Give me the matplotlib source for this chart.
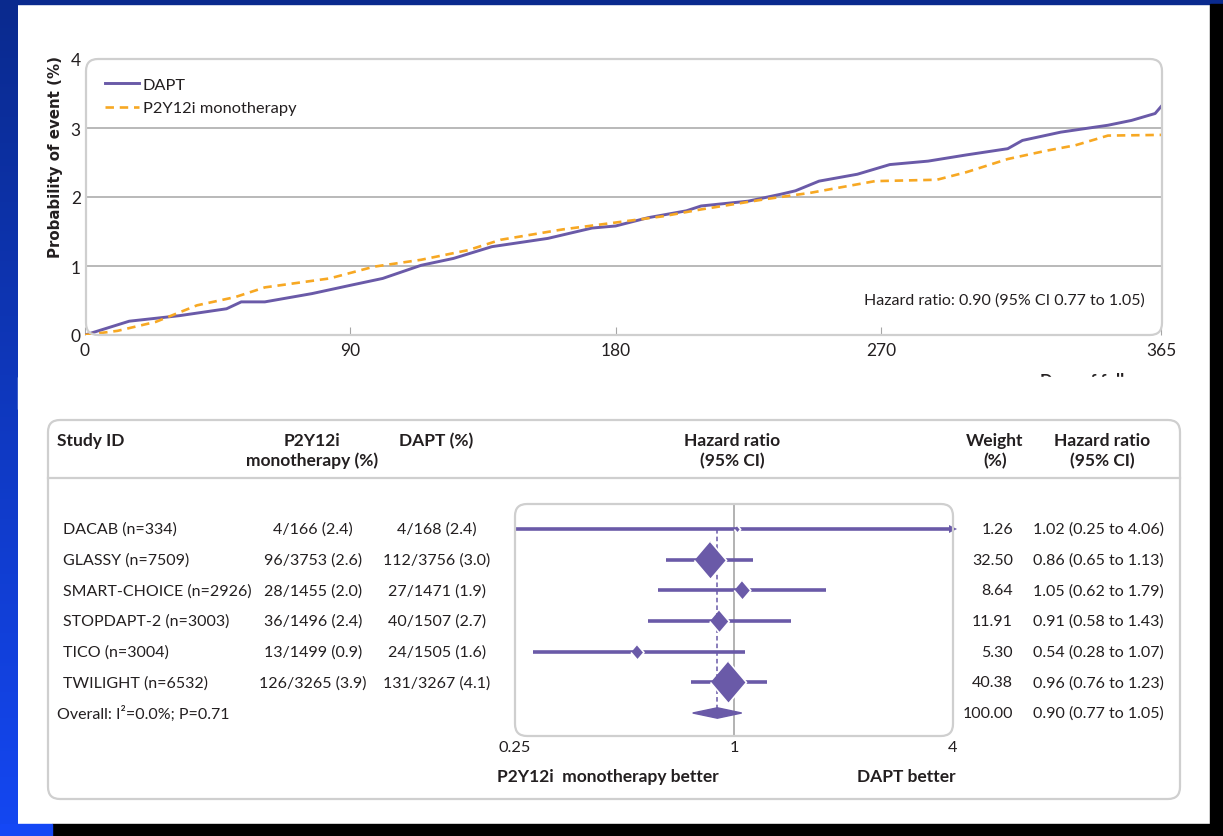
import numpy as np
import matplotlib
matplotlib.use("Agg")
import matplotlib.pyplot as plt
from matplotlib.patches import FancyBboxPatch, Rectangle, Polygon
from matplotlib.transforms import IdentityTransform, blended_transform_factory
from matplotlib.lines import Line2D

# ---- data ----
# cumulative event curves (days, probability %)
dapt_days = [0, 15, 32, 48, 53, 61, 77, 90, 101, 114, 125, 138, 157, 172, 180, 191, 204, 209,
             225, 236, 241, 249, 262, 273, 286, 299, 313, 318, 331, 347, 355, 363, 365]
dapt_prob = [0, 0.20, 0.28, 0.38, 0.48, 0.48, 0.60, 0.72, 0.82, 1.01, 1.11, 1.28, 1.40, 1.55,
             1.58, 1.70, 1.80, 1.87, 1.94, 2.04, 2.09, 2.23, 2.33, 2.47, 2.52, 2.61, 2.70, 2.82,
             2.94, 3.04, 3.11, 3.21, 3.31]
mono_days = [0, 11, 24, 38, 51, 61, 83, 98, 114, 130, 141, 162, 180, 196, 209, 231, 246, 268,
             289, 299, 313, 326, 336, 347, 365]
mono_prob = [0, 0.06, 0.19, 0.43, 0.55, 0.69, 0.82, 0.99, 1.09, 1.23, 1.38, 1.53, 1.63, 1.72,
             1.82, 1.97, 2.06, 2.23, 2.25, 2.36, 2.55, 2.67, 2.75, 2.89, 2.90]
km_xticks = [0, 90, 180, 270, 365]
km_yticks = [0, 1, 2, 3, 4]

# forest plot
studies = ["DACAB (n=334)", "GLASSY (n=7509)", "SMART-CHOICE (n=2926)",
           "STOPDAPT-2 (n=3003)", "TICO (n=3004)", "TWILIGHT (n=6532)"]
mono_events = ["4/166 (2.4)", "96/3753 (2.6)", "28/1455 (2.0)", "36/1496 (2.4)",
               "13/1499 (0.9)", "126/3265 (3.9)"]
dapt_events = ["4/168 (2.4)", "112/3756 (3.0)", "27/1471 (1.9)", "40/1507 (2.7)",
               "24/1505 (1.6)", "131/3267 (4.1)"]
hr = [1.02, 0.86, 1.05, 0.91, 0.54, 0.96]
hr_lo = [0.25, 0.65, 0.62, 0.58, 0.28, 0.76]
hr_hi = [4.06, 1.13, 1.79, 1.43, 1.07, 1.23]
weights = [1.26, 32.50, 8.64, 11.91, 5.30, 40.38]
overall_hr, overall_lo, overall_hi, overall_w = 0.90, 0.77, 1.05, 100.00
forest_ticks = [0.25, 1, 4]

W, H = 1223, 837
PURPLE = "#6a5aa8"
ORANGE = "#f7a823"
GRID = "#a6a6a6"
BOX = "#cfcfcf"
TXT = "#231f20"
FONT = "Lato"
FS = 11.5     # body text
FS_HDR = 12.5 # bold headers
FS_TICK = 12.5

def fx(x):
    return x / W

def fy(y):
    return 1 - y / H

fig = plt.figure(figsize=(W / 100, H / 100), dpi=100, facecolor="white")
plt.rcParams["font.family"] = [FONT, "DejaVu Sans"]

def rounded_box(x0, y0, x1, y1, r=12, z=0.5):
    # rounded frame in pixel coords (y measured from top)
    p = FancyBboxPatch((x0, H - y1), x1 - x0, y1 - y0,
                       boxstyle="round,pad=0,rounding_size=%d" % r,
                       transform=IdentityTransform(), facecolor="none",
                       edgecolor=BOX, linewidth=1.6, zorder=z)
    fig.add_artist(p)

# ---- slide background bits ----
bg = fig.add_axes([0, 0, 18 / W, 1])
grad = np.linspace(0, 1, 256).reshape(-1, 1)
cm = matplotlib.colors.LinearSegmentedColormap.from_list("b", ["#0a2a8e", "#1447f2"])
bg.imshow(grad, aspect="auto", cmap=cm, extent=[0, 1, 0, 1], origin="upper")
bg.axis("off")
fig.add_artist(Rectangle((0, fy(5)), 1, 5 / H, transform=fig.transFigure,
                         color="#0a2a8e", zorder=10))
fig.add_artist(Rectangle((fx(1210), fy(825)), 13 / W, 820 / H, transform=fig.transFigure,
                         color="black", zorder=10))
fig.add_artist(Rectangle((fx(52), 0), 1, 12 / H, transform=fig.transFigure,
                         color="black", zorder=10))
fig.add_artist(Rectangle((0, 0), fx(52), 12 / H, transform=fig.transFigure,
                         color="#1447f5", zorder=10))

# ---- top: cumulative event curves ----
ax = fig.add_axes([fx(85), fy(336), (1161 - 85) / W, (336 - 60) / H])
ax.plot(dapt_days, dapt_prob, color=PURPLE, lw=2.1, label="DAPT", zorder=3)
ax.plot(mono_days, mono_prob, color=ORANGE, lw=1.9, ls=(0, (3.2, 2.2)),
        label="P2Y12i monotherapy", zorder=3)
ax.set_xlim(0, 365)
ax.set_ylim(0, 4)
for v in [1, 2, 3]:
    ax.axhline(v, color=GRID, lw=1.1, zorder=1)
for s in ax.spines.values():
    s.set_visible(False)
ax.set_xticks(km_xticks)
ax.set_yticks(km_yticks)
ax.tick_params(axis="x", direction="in", length=6, width=0.8, color=GRID,
               labelsize=FS_TICK, labelcolor=TXT, pad=5)
ax.tick_params(axis="y", length=0, labelsize=FS_TICK, labelcolor=TXT, pad=3)
ax.set_ylabel("Probability of event (%)", family="DejaVu Sans", fontweight="bold",
              fontsize=10.8, color=TXT)
ax.yaxis.set_label_coords((63 - 85) / (1161 - 85), (336 - 157) / (336 - 60))
rounded_box(86, 60, 1162, 336, r=12, z=2)
leg = ax.legend(loc="upper left", bbox_to_anchor=(0.008, 0.975), frameon=False,
                fontsize=11.8, handlelength=2.1, handletextpad=0.2, labelspacing=0.55,
                borderaxespad=0.3)
for t in leg.get_texts():
    t.set_color(TXT)
ax.text(0.985, 0.13, "Hazard ratio: 0.90 (95% CI 0.77 to 1.05)", transform=ax.transAxes,
        ha="right", va="center", fontsize=11.5, color=TXT)

# x axis title, cut by the panel below like in the slide
fig.text(fx(1172), fy(373), "Days of follow-up", ha="right", va="top", fontsize=12,
         fontweight="bold", color=TXT)
fig.add_artist(Rectangle((fx(18), fy(410)), (1212 - 18) / W, 32 / H,
                         transform=fig.transFigure, color="white", zorder=5))

# ---- bottom: forest plot ----
rounded_box(48, 421, 1180, 800, r=12, z=6)
fig.add_artist(Line2D([fx(48), fx(1180)], [fy(479), fy(479)], transform=fig.transFigure,
                      color=BOX, lw=1.6, zorder=6))

hdr = dict(fontsize=FS_HDR, fontweight="bold", color=TXT, va="center", zorder=7)
fig.text(fx(57), fy(441), "Study ID", ha="left", **hdr)
fig.text(fx(312), fy(441), "P2Y12i", ha="center", **hdr)
fig.text(fx(312), fy(461), "monotherapy (%)", ha="center", **hdr)
fig.text(fx(436), fy(441), "DAPT (%)", ha="center", **hdr)
fig.text(fx(732), fy(441), "Hazard ratio", ha="center", **hdr)
fig.text(fx(732), fy(461), "(95% CI)", ha="center", **hdr)
fig.text(fx(995), fy(441), "Weight", ha="center", **hdr)
fig.text(fx(995), fy(461), "(%)", ha="center", **hdr)
fig.text(fx(1102), fy(441), "Hazard ratio", ha="center", **hdr)
fig.text(fx(1102), fy(461), "(95% CI)", ha="center", **hdr)

row_px = [530, 560, 591, 622, 652, 683, 714]
fax = fig.add_axes([fx(515), fy(737), (953 - 515) / W, (737 - 505) / H], zorder=7)
fax.set_xscale("log", base=2)
fax.set_xlim(0.25, 4)
step = (row_px[-1] - row_px[0]) / 6.0
fax.set_ylim(6 + (737 - row_px[-1]) / step, -(row_px[0] - 505) / step)
fax.patch.set_alpha(0)
for s in fax.spines.values():
    s.set_visible(False)
rounded_box(515, 505, 953, 737, r=12, z=8)

fax.axvline(1, color=GRID, lw=1.2, zorder=1)
fax.plot([overall_hr, overall_hr], [0, 6], color=PURPLE, lw=1.1, ls=(0, (3, 2)), zorder=2)

diamond = [(0, 1), (0.85, 0), (0, -1), (-0.85, 0)]
for i in range(len(studies)):
    hi_clip = min(hr_hi[i], 4)
    fax.plot([hr_lo[i], hi_clip], [i, i], color=PURPLE, lw=2.6, solid_capstyle="butt", zorder=3)
    if hr_hi[i] > 4:
        fax.plot([hi_clip], [i], marker=">", color=PURPLE, ms=6, mew=0, zorder=3, clip_on=False)
    fax.plot([hr[i]], [i], marker=diamond, color=PURPLE, ms=4.8 * np.sqrt(weights[i]),
             mec="white", mew=1.2, zorder=4)

oy = len(studies)
fax.add_patch(Polygon([(overall_lo, oy), (overall_hr, oy - 0.17), (overall_hi, oy),
                       (overall_hr, oy + 0.17)], closed=True, color=PURPLE, zorder=4))

fax.set_yticks([])
fax.set_xticks(forest_ticks)
fax.set_xticklabels(["0.25", "1", "4"])
fax.minorticks_off()
fax.tick_params(axis="x", length=0, labelsize=11.8, labelcolor=TXT, pad=3)

trans = blended_transform_factory(fig.transFigure, fax.transData)
cell = dict(fontsize=FS, color=TXT, va="center", transform=trans)
for i in range(len(studies)):
    fax.text(fx(63), i, studies[i], ha="left", **cell)
    fax.text(fx(313), i, mono_events[i], ha="center", **cell)
    fax.text(fx(437), i, dapt_events[i], ha="center", **cell)
    fax.text(fx(1013), i, "%.2f" % weights[i], ha="right", **cell)
    fax.text(fx(1164), i, "%.2f (%.2f to %.2f)" % (hr[i], hr_lo[i], hr_hi[i]), ha="right", **cell)
fax.text(fx(57), oy, "Overall: I²=0.0%; P=0.71", ha="left", **cell)
fax.text(fx(1013), oy, "%.2f" % overall_w, ha="right", **cell)
fax.text(fx(1164), oy, "%.2f (%.2f to %.2f)" % (overall_hr, overall_lo, overall_hi),
         ha="right", **cell)

fig.text(fx(497), fy(777), "P2Y12i  monotherapy better", ha="left", va="center",
         fontsize=FS_HDR, fontweight="bold", color=TXT)
fig.text(fx(956), fy(777), "DAPT better", ha="right", va="center",
         fontsize=FS_HDR, fontweight="bold", color=TXT)

fig.savefig("out.png", dpi=100, facecolor="white")
